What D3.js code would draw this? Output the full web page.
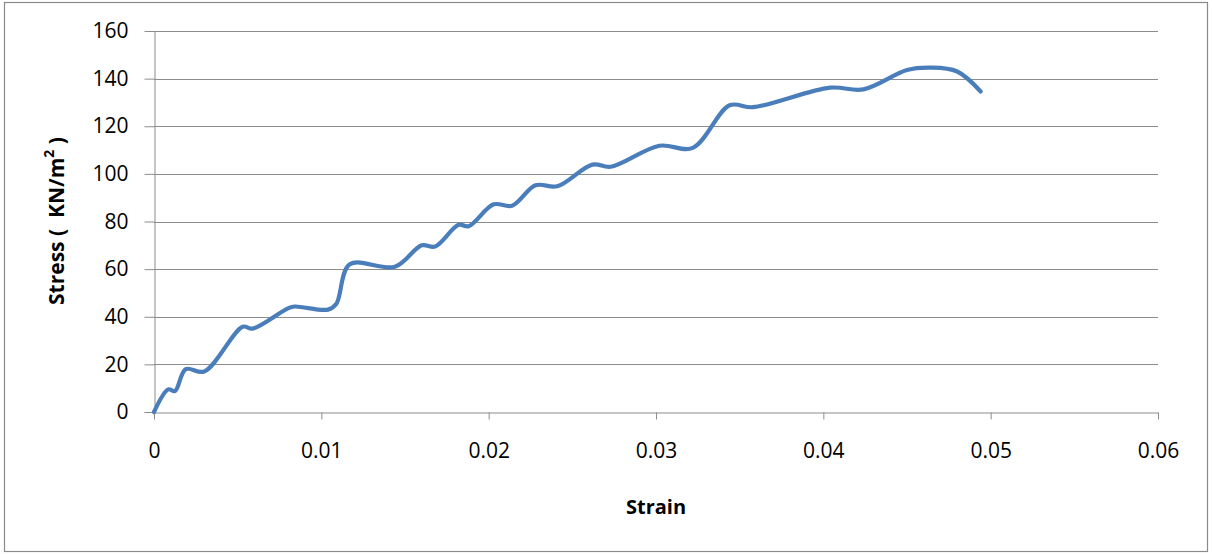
<!DOCTYPE html>
<html>
<head>
<meta charset="utf-8">
<script src="https://cdn.jsdelivr.net/npm/d3@7"></script>
<style>
  html, body { margin: 0; padding: 0; background: #fff; }
  svg { display: block; }
  text { font-family: "Open Sans", "DejaVu Sans", sans-serif; fill: #000; }
</style>
</head>
<body>
<svg id="chart" width="1212" height="554"></svg>
<script>
// Stress–strain readings
const strain = [0, 0.00085, 0.00125, 0.0019, 0.0030, 0.0053, 0.0059, 0.0080, 0.0084,
  0.0104, 0.0109, 0.0117, 0.0144, 0.0160, 0.0168, 0.0182, 0.0188, 0.0203, 0.0214,
  0.0228, 0.0241, 0.0262, 0.0273, 0.0302, 0.0322, 0.0344, 0.0358, 0.0404, 0.0424,
  0.0450, 0.0464, 0.0480, 0.0494];
const stress = [0, 9.5, 8.8, 18, 17, 35.8, 35, 43.5, 44.3,
  43, 45.5, 62, 61, 70, 69.5, 78.6, 78, 87.2, 86.6,
  95.2, 94.8, 103.9, 103, 111.8, 110.9, 128.8, 128, 136.2, 135.5,
  143.6, 144.6, 143, 134.6];

const xTicks = [0, 0.01, 0.02, 0.03, 0.04, 0.05, 0.06];
const yTicks = [0, 20, 40, 60, 80, 100, 120, 140, 160];

const svg = d3.select("#chart");
const W = 1212, H = 554;
const plot = { left: 154, right: 1158, top: 31, bottom: 412 };
const gridColor = "#8c8c8c";

// outer frame
svg.append("rect")
  .attr("x", 4.5).attr("y", 2.5)
  .attr("width", W - 9).attr("height", H - 5)
  .attr("fill", "#fff").attr("stroke", "#8a8a8a").attr("stroke-width", 1.2);

const x = d3.scaleLinear().domain([0, 0.06]).range([plot.left, plot.right]);
const y = d3.scaleLinear().domain([0, 160]).range([plot.bottom, plot.top]);

// horizontal gridlines
svg.append("g")
  .selectAll("line")
  .data(yTicks.filter(v => v > 0))
  .join("line")
  .attr("x1", plot.left).attr("x2", plot.right)
  .attr("y1", d => Math.round(y(d)) + 0.5).attr("y2", d => Math.round(y(d)) + 0.5)
  .attr("stroke", gridColor).attr("stroke-width", 1);

// x axis
const xAxis = svg.append("g")
  .attr("transform", `translate(0,${Math.round(plot.bottom) + 0.5})`)
  .call(d3.axisBottom(x).tickValues(xTicks).tickFormat(d => d3.format("")(+d.toFixed(2)))
    .tickSizeInner(7).tickSizeOuter(0).tickPadding(24));
xAxis.select(".domain").attr("stroke", gridColor);
xAxis.selectAll(".tick line").attr("stroke", gridColor);
xAxis.selectAll(".tick text").attr("font-size", 21).attr("fill", "#000")
  .style("font-family", "'Open Sans', sans-serif");

// y axis
const yAxis = svg.append("g")
  .attr("transform", `translate(${Math.round(plot.left) + 0.5},0)`)
  .call(d3.axisLeft(y).tickValues(yTicks).tickSizeInner(10).tickSizeOuter(0).tickPadding(16));
yAxis.select(".domain").attr("stroke", gridColor);
yAxis.selectAll(".tick line").attr("stroke", gridColor);
yAxis.selectAll(".tick text").attr("font-size", 21).attr("fill", "#000")
  .style("font-family", "'Open Sans', sans-serif");

// the curve
const pts = strain.map((s, i) => [s, stress[i]]);
const line = d3.line()
  .x(d => x(d[0]))
  .y(d => y(d[1]))
  .curve(d3.curveCatmullRom.alpha(0.5));
svg.append("path")
  .datum(pts)
  .attr("d", line)
  .attr("fill", "none")
  .attr("stroke", "#4a7ebb")
  .attr("stroke-width", 4.2)
  .attr("stroke-linejoin", "round")
  .attr("stroke-linecap", "round");

// axis titles
svg.append("text")
  .attr("x", 656).attr("y", 506)
  .attr("text-anchor", "middle").attr("dominant-baseline", "central")
  .attr("font-size", 20).attr("font-weight", "bold")
  .text("Strain");

const yt = svg.append("text")
  .attr("transform", "translate(56,221) rotate(-90)")
  .attr("text-anchor", "middle").attr("dominant-baseline", "central")
  .attr("font-size", 21).attr("font-weight", "bold")
  .style("white-space", "pre");
yt.append("tspan").text("Stress (  KN/m");
yt.append("tspan").attr("font-size", 14).attr("dy", -8).text("2");
yt.append("tspan").attr("dy", 8).text(" )");
</script>
</body>
</html>
